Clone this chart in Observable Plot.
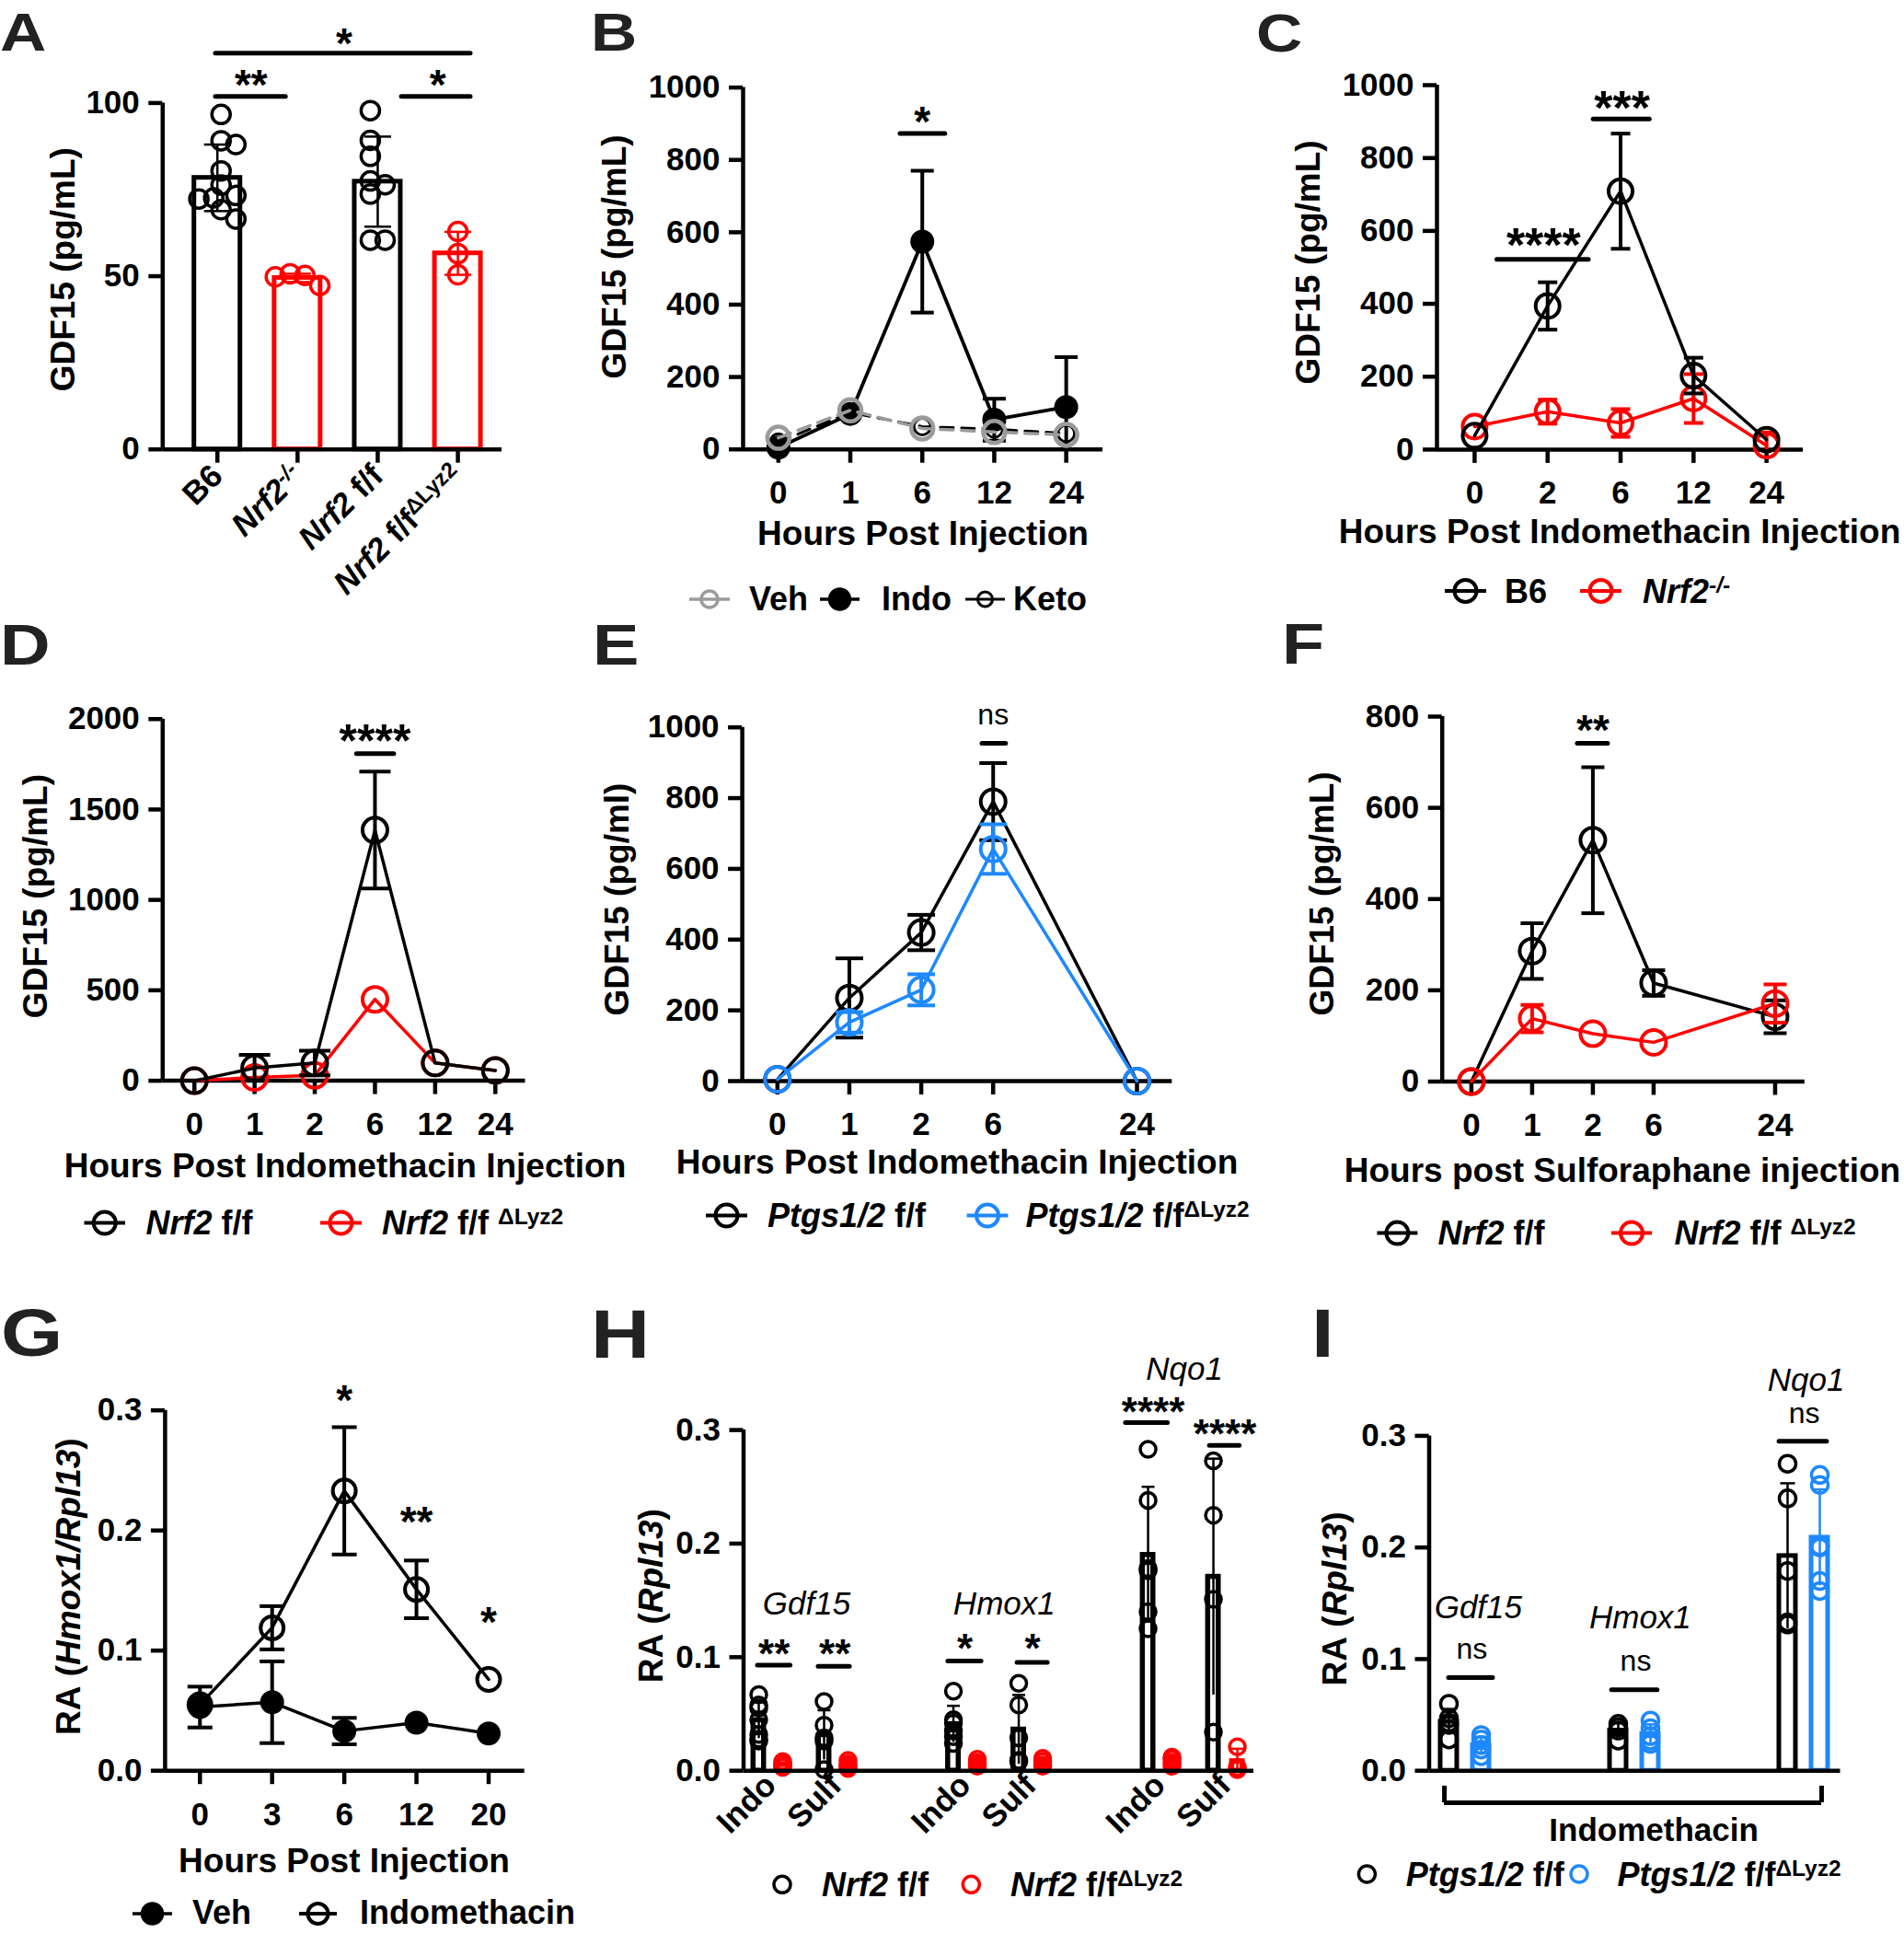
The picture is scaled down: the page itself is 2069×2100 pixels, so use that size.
<!DOCTYPE html>
<html><head><meta charset="utf-8">
<script src="https://cdn.jsdelivr.net/npm/d3@7"></script>
<script src="https://cdn.jsdelivr.net/npm/@observablehq/plot@0.6"></script>
<style>
html,body{margin:0;padding:0;background:#fff;}
#root{position:relative;width:2069px;height:2100px;overflow:hidden;background:#fff;}
</style></head>
<body><div id="root"></div>
<script>
// ================= DATA =================
// Panel A
const aGroups = ["B6", "Nrf2-/-", "Nrf2 f/f", "Nrf2 f/fΔLyz2"];
const aMean = [78.4, 49.5, 77.3, 56.6];
const aSD = [9.6, 1.2, 13.0, 6.2];
const aPtsB6 = [96.7, 89.1, 88.0, 80.4, 76.3, 72.3, 72.6, 73.3, 69.2, 66.5];
const aPtsKO = [47.3, 50.2, 49.8, 50.7];
const aPtsFF = [97.8, 89.2, 84.6, 77.5, 76.4, 73.7, 60.4, 60.4];
const aPtsCKO = [62.9, 56.5, 50.4];
const aSig = [
  {x1: -0.02, x2: 0.855, y: 101.9, label: "**", tx: 0.42, ty: 108},
  {x1: 2.3, x2: 3.16, y: 101.9, label: "*", tx: 2.75, ty: 108},
  {x1: -0.02, x2: 3.16, y: 114.4, label: "*", tx: 1.58, ty: 120.2}
];
// Panel B
const bHours = ["0", "1", "6", "12", "24"];
const bVeh = [32, 108, 58, 48, 40];
const bIndo = [5, 98, 574, 82, 117];
const bIndoSD = [0, 0, 196, 58, 138];
const bKeto = [20, 102, 63, 56, 44];
const bSig = [{x1: 1.696, x2: 2.32, y: 873, label: "*", tx: 2.0, ty: 933}];
// Panel C
const cHours = ["0", "2", "6", "12", "24"];
const cB6 = [38, 394, 709, 203, 27];
const cB6SD = [0, 65, 158, 49, 0];
const cKO = [63, 104, 73, 140, 11];
const cKOSD = [0, 33, 38, 67, 36];
const cSig = [
  {x1: 0.31, x2: 1.565, y: 522, label: "****", tx: 0.945, ty: 592},
  {x1: 1.63, x2: 2.40, y: 907, label: "***", tx: 2.02, ty: 969}
];
// Panel D
const dHours = ["0", "1", "2", "6", "12", "24"];
const dFF = [0, 70, 98, 1386, 98, 57];
const dFFSD = [0, 73, 68, 323, 0, 0];
const dKO = [0, 18, 30, 450, 98, 57];
const dSig = [{x1: 2.70, x2: 3.32, y: 1809, label: "****", tx: 3.0, ty: 1941}];
// Panel E
const eHours = ["0", "1", "2", "6", "24"];
const eFF = [5, 235, 420, 790, 0];
const eFFSD = [0, 112, 50, 109, 0];
const eKO = [5, 166, 258, 656, 0];
const eKOSD = [0, 29, 44, 70, 0];
const eSig = [{x1: 2.85, x2: 3.18, y: 955, label: "ns", tx: 3.0, ty: 1031}];
// Panel F
const fHours = ["0", "1", "2", "6", "24"];
const fFF = [0, 286, 529, 216, 142];
const fFFSD = [0, 61, 160, 28, 36];
const fKO = [0, 138, 105, 86, 171];
const fKOSD = [0, 30, 0, 0, 42];
const fSig = [{x1: 1.75, x2: 2.25, y: 741.5, label: "**", tx: 2.0, ty: 793}];
// Panel G
const gHours = ["0", "3", "6", "12", "20"];
const gVeh = [0.053, 0.057, 0.033, 0.040, 0.031];
const gVehSD = [0.017, 0.034, 0.011, 0, 0];
const gIndo = [0.055, 0.119, 0.233, 0.151, 0.076];
const gIndoSD = [0, 0.018, 0.053, 0.024, 0];
const gSig = [
  {label: "*", tx: 2, ty: 0.317},
  {label: "**", tx: 3, ty: 0.216},
  {label: "*", tx: 4, ty: 0.1324}
];
// Panel H  (order: Gdf15 Indo, Gdf15 Sulf, Hmox1 Indo, Hmox1 Sulf, Nqo1 Indo, Nqo1 Sulf)
const hGenes = ["Gdf15", "Hmox1", "Nqo1"];
const hTreat = ["Indo", "Sulf"];
const hPtsFF = [
  [0.067, 0.058, 0.055, 0.045, 0.032, 0.028, 0.026],
  [0.061, 0.040, 0.029, 0.026, 0.001],
  [0.070, 0.045, 0.042, 0.035, 0.030, 0.024],
  [0.077, 0.058, 0.029, 0.009, 0.008],
  [0.283, 0.238, 0.178, 0.176, 0.140, 0.125],
  [0.273, 0.225, 0.151, 0.034]
];
const hPtsKO = [
  [0.008, 0.006, 0.005, 0.004, 0.003],
  [0.009, 0.006, 0.004, 0.002],
  [0.010, 0.007, 0.005, 0.004],
  [0.011, 0.008, 0.005, 0.004],
  [0.012, 0.010, 0.007, 0.004],
  [0.021, 0.003, 0.001]
];
const hSig = [
  {x1: -0.04, x2: 1.33, y: 0.093, label: "**", tx: 0.64, ty: 0.111},
  {x1: 2.5, x2: 3.81, y: 0.0919, label: "**", tx: 3.18, ty: 0.111},
  {x1: 7.92, x2: 9.31, y: 0.0966, label: "*", tx: 8.62, ty: 0.1165},
  {x1: 10.81, x2: 12.08, y: 0.0955, label: "*", tx: 11.44, ty: 0.1165},
  {x1: 15.34, x2: 17.1, y: 0.3065, label: "****", tx: 16.48, ty: 0.3246},
  {x1: 18.85, x2: 20.1, y: 0.2866, label: "****", tx: 19.48, ty: 0.3047}
];
const hGeneLabels = [{gene: "Gdf15", x: 2.0, y: 0.147}, {gene: "Hmox1", x: 10.26, y: 0.147}, {gene: "Nqo1", x: 17.79, y: 0.353}];
// Panel I (order: Gdf15, Hmox1, Nqo1)
const iPtsFF = [
  [0.060, 0.047, 0.043, 0.041, 0.028],
  [0.042, 0.039, 0.036, 0.027],
  [0.275, 0.244, 0.179, 0.133, 0.131]
];
const iPtsKO = [
  [0.032, 0.028, 0.023, 0.019, 0.013],
  [0.045, 0.038, 0.031, 0.027, 0.024],
  [0.265, 0.256, 0.201, 0.200, 0.170, 0.161]
];
const iSig = [
  {x1: 0, x2: 1.37, y: 0.0835, label: "ns", tx: 0.71, ty: 0.1075},
  {x1: 5.06, x2: 6.48, y: 0.0725, label: "ns", tx: 5.8, ty: 0.0965},
  {x1: 10.26, x2: 11.74, y: 0.2952, label: "ns", tx: 11.03, ty: 0.318}
];
const iGeneLabels = [{gene: "Gdf15", x: 0.91, y: 0.146}, {gene: "Hmox1", x: 5.94, y: 0.137}, {gene: "Nqo1", x: 11.09, y: 0.3495}];
const iBracket = {x1: -0.14, x2: 11.57, y: -0.0287, yEnd: -0.0138, label: "Indomethacin", tx: 6.36, ty: -0.0538};

// ================= STYLE / LAYOUT =================
const FONT = "'Liberation Sans', Arial, Helvetica, sans-serif";
const RED = "#ff0000", BLUE = "#1e88ff", GRAY = "#9b9b9b", BLACK = "#000";
const root = document.getElementById("root");
const hline = {draw(ctx, size) { const r = Math.sqrt(size / Math.PI); ctx.moveTo(-r, 0); ctx.lineTo(r, 0); }};
const intFmt = d3.format("d");

function tspans(parts, fs) {
  let out = "", up = false;
  for (const p of parts) {
    const t = p[0], f = p[1] || "";
    const sup = f.includes("s");
    let dy = 0;
    if (sup && !up) { dy = -0.3 * fs; up = true; }
    else if (!sup && up) { dy = 0.3 * fs; up = false; }
    const size = sup ? fs * 0.68 : fs;
    out += `<tspan${dy ? ` dy="${dy.toFixed(1)}"` : ""} font-size="${size.toFixed(1)}" font-style="${f.includes("i") ? "italic" : "normal"}" font-weight="${f.includes("n") ? "normal" : "bold"}">${t.replace(/ /g, "\u00a0")}</tspan>`;
  }
  return out;
}

function layout(box, fr) {
  return {width: box[2] - box[0], height: box[3] - box[1],
    marginLeft: fr[0] - box[0], marginRight: box[2] - fr[1],
    marginTop: fr[3] - box[1], marginBottom: box[3] - fr[2]};
}
function baseStyle() {
  return {fontFamily: FONT, fontSize: "35px", fontWeight: "bold", background: "transparent", color: "#000", overflow: "visible", position: "absolute"};
}
function mount(svg, box) {
  svg.style.position = "absolute";
  svg.style.left = box[0] + "px";
  svg.style.top = box[1] + "px";
  svg.style.maxWidth = "none";
  root.appendChild(svg);
  svg.querySelectorAll('[aria-label^="x-axis"], [aria-label^="y-axis"]').forEach(g => {
    g.querySelectorAll("path, line").forEach(p => { p.setAttribute("stroke-width", 4.5); p.style.strokeWidth = "4.5px"; p.setAttribute("stroke", "#000"); });
  });
  return svg;
}
function axesLines(xd, yd) {
  return [
    Plot.ruleX([{x: xd[0], y1: yd[0], y2: yd[1]}], {x: "x", y1: "y1", y2: "y2", stroke: BLACK, strokeWidth: 4.5}),
    Plot.ruleY([{y: yd[0], x1: xd[0], x2: xd[1]}], {y: "y", x1: "x1", x2: "x2", stroke: BLACK, strokeWidth: 4.5})
  ];
}
function sigMarks(sig, fs) {
  const lines = sig.filter(d => d.x1 != null);
  const stars = sig.filter(d => d.label !== "ns");
  const ns = sig.filter(d => d.label === "ns");
  return [
    Plot.ruleY(lines, {y: "y", x1: "x1", x2: "x2", stroke: BLACK, strokeWidth: 5, strokeLinecap: "round"}),
    Plot.text(stars, {x: "tx", y: "ty", text: "label", fontSize: fs, fontWeight: "bold", dy: 0.26 * fs}),
    Plot.text(ns, {x: "tx", y: "ty", text: "label", fontSize: 32, fontWeight: "normal", dy: -2})
  ];
}
// simple beeswarm: allows partial overlap, then centred on the group
function swarm(vals, diam, pxY, pxX) {
  const order = vals.map((v, i) => i).sort((a, b) => vals[b] - vals[a]);
  const placed = [], res = new Array(vals.length);
  const step = diam * 0.35, minD = diam * 0.62;
  for (const i of order) {
    const yp = vals[i] * pxY;
    let chosen = 0;
    for (let k = 0; k < 40; k++) {
      const cand = k === 0 ? 0 : (k % 2 ? 1 : -1) * Math.ceil(k / 2) * step;
      if (placed.every(p => (p.x - cand) ** 2 + (p.y - yp) ** 2 >= minD ** 2)) { chosen = cand; break; }
    }
    placed.push({x: chosen, y: yp});
    res[i] = chosen;
  }
  const mid = (d3.min(res) + d3.max(res)) / 2;
  return res.map(v => (v - mid) / pxX);
}

// ================= PANEL A =================
{
  const box = [0, 0, 560, 690], fr = [176.3, 545, 487.7, 111.4], xd = [-0.682, 3.55], yd = [0, 100];
  const pxX = (fr[1] - fr[0]) / (xd[1] - xd[0]), pxY = (fr[2] - fr[3]) / (yd[1] - yd[0]);
  const colors = [BLACK, RED, BLACK, RED];
  const pts = [aPtsB6, aPtsKO, aPtsFF, aPtsCKO];
  const marks = [];
  aGroups.forEach((g, i) => {
    const c = colors[i];
    const bar = [{x: i, x1: i - 0.287, x2: i + 0.287, m: aMean[i], lo: aMean[i] - aSD[i], hi: aMean[i] + aSD[i]}];
    marks.push(Plot.rectY(bar, {x1: "x1", x2: "x2", y1: 0, y2: "m", fill: "#fff", stroke: c, strokeWidth: 5}));
    marks.push(Plot.ruleX(bar, {x: "x", y1: "lo", y2: "hi", stroke: c, strokeWidth: 2.5}));
    marks.push(Plot.dot(bar, {x: "x", y: "hi", symbol: hline, r: 14.5, stroke: c, strokeWidth: 2.5, fill: "none"}));
    marks.push(Plot.dot(bar, {x: "x", y: "lo", symbol: hline, r: 14.5, stroke: c, strokeWidth: 2.5, fill: "none"}));
    const off = swarm(pts[i], 23, pxY, pxX);
    marks.push(Plot.dot(pts[i].map((v, j) => ({x: i + off[j], v})), {x: "x", y: "v", r: 10, stroke: c, strokeWidth: 3.5, fill: "none"}));
  });
  marks.push(...axesLines(xd, yd));
  marks.push(...sigMarks(aSig, 46));
  const svg = Plot.plot({...layout(box, fr), style: baseStyle(),
    x: {type: "linear", domain: xd, ticks: [0, 1, 2, 3], tickFormat: d => aGroups[Math.round(d)], tickRotate: -45, tickSize: 15, tickPadding: 8, label: null},
    y: {type: "linear", domain: yd, ticks: [0, 50, 100], tickFormat: intFmt, tickSize: 15, tickPadding: 10, label: null},
    marks});
  mount(svg, box);
  const rich = {
    "Nrf2-/-": [["Nrf2", "i"], ["-/-", "is"]],
    "Nrf2 f/f": [["Nrf2", "i"], [" f/f", ""]],
    "Nrf2 f/fΔLyz2": [["Nrf2", "i"], [" f/f", ""], ["ΔLyz2", "s"]]
  };
  svg.querySelectorAll('[aria-label^="x-axis"] text').forEach(t => {
    const p = rich[t.textContent.trim()];
    if (p) t.innerHTML = tspans(p, 35);
  });
}

// ================= LINE PANELS =================
function linePanel(o) {
  const {box, fr, xd, yd, yTicks, slots, labels, series, sig} = o;
  const yFmt = o.yFmt || intFmt;
  const marks = [...axesLines(xd, yd)];
  for (const s of series) {
    const rows = slots.map((x, i) => ({x, v: s.v[i], sd: s.sd ? s.sd[i] : 0}));
    const eb = rows.filter(d => d.sd > 0).map(d => ({x: d.x, lo: Math.max(0, d.v - d.sd), hi: d.v + d.sd}));
    marks.push(Plot.line(rows, {x: "x", y: "v", stroke: s.c, strokeWidth: s.lw || 3.5, strokeDasharray: s.dash}));
    marks.push(Plot.ruleX(eb, {x: "x", y1: "lo", y2: "hi", stroke: s.c, strokeWidth: 4}));
    marks.push(Plot.dot(eb, {x: "x", y: "hi", symbol: hline, r: s.cap, stroke: s.c, strokeWidth: 4, fill: "none"}));
    marks.push(Plot.dot(eb.filter(d => d.lo > 0), {x: "x", y: "lo", symbol: hline, r: s.cap, stroke: s.c, strokeWidth: 4, fill: "none"}));
    marks.push(Plot.dot(rows, {x: "x", y: "v", r: s.r, stroke: s.c, fill: s.fill || "none", strokeWidth: s.sw || 4}));
  }
  marks.push(...sigMarks(sig, o.starFs || 46));
  const svg = Plot.plot({...layout(box, fr), style: baseStyle(),
    x: {type: "linear", domain: xd, ticks: slots, tickFormat: d => labels[slots.indexOf(Math.round(d))], tickSize: 15, tickPadding: 19, label: null},
    y: {type: "linear", domain: yd, ticks: yTicks, tickFormat: yFmt, tickSize: 15, tickPadding: 10, label: null},
    marks});
  mount(svg, box);
}

// B
linePanel({box: [640, 0, 1220, 640], fr: [807, 1198, 487.7, 94.6], xd: [-0.49, 4.51], yd: [0, 1000],
  yTicks: [0, 200, 400, 600, 800, 1000], slots: [0, 1, 2, 3, 4], labels: bHours,
  series: [
    {v: bIndo, sd: bIndoSD, c: BLACK, fill: BLACK, r: 12, cap: 12.5, lw: 3.8, sw: 2},
    {v: bKeto, c: BLACK, r: 9, cap: 9, lw: 3, sw: 3, dash: "14,9"},
    {v: bVeh, c: GRAY, r: 12, cap: 12, lw: 3.5, sw: 4.5, dash: "14,9"}
  ], sig: bSig});
// C
linePanel({box: [1360, 0, 2069, 620], fr: [1561, 1959, 487.9, 92], xd: [-0.516, 4.503], yd: [0, 1000],
  yTicks: [0, 200, 400, 600, 800, 1000], slots: [0, 1, 2, 3, 4], labels: cHours,
  series: [
    {v: cKO, sd: cKOSD, c: RED, r: 13, cap: 10.5},
    {v: cB6, sd: cB6SD, c: BLACK, r: 13, cap: 10.5}
  ], sig: cSig, starFs: 52});
// D
linePanel({box: [0, 670, 640, 1300], fr: [176.3, 570.5, 1173.6, 780.7], xd: [-0.526, 5.5], yd: [0, 2000],
  yTicks: [0, 500, 1000, 1500, 2000], slots: [0, 1, 2, 3, 4, 5], labels: dHours,
  series: [
    {v: dKO, c: RED, r: 13.5, cap: 17},
    {v: dFF, sd: dFFSD, c: BLACK, r: 13.5, cap: 17}
  ], sig: dSig, starFs: 50});
// E
linePanel({box: [640, 670, 1380, 1300], fr: [806.1, 1273.3, 1174, 789.7], xd: [-0.489, 5.49], yd: [0, 1000],
  yTicks: [0, 200, 400, 600, 800, 1000], slots: [0, 1, 2, 3, 5], labels: eHours,
  series: [
    {v: eFF, sd: eFFSD, c: BLACK, r: 13.5, cap: 15},
    {v: eKO, sd: eKOSD, c: BLUE, r: 13.5, cap: 15}
  ], sig: eSig});
// F
linePanel({box: [1380, 670, 2069, 1300], fr: [1566.7, 1960.8, 1174.5, 778], xd: [-0.48, 5.49], yd: [0, 800],
  yTicks: [0, 200, 400, 600, 800], slots: [0, 1, 2, 3, 5], labels: fHours,
  series: [
    {v: fFF, sd: fFFSD, c: BLACK, r: 13.5, cap: 12.5},
    {v: fKO, sd: fKOSD, c: RED, r: 13.5, cap: 12.5}
  ], sig: fSig});
// G
linePanel({box: [0, 1400, 640, 2100], fr: [178.9, 569.7, 1923.2, 1531.7], xd: [-0.483, 4.5], yd: [0, 0.3],
  yTicks: [0, 0.1, 0.2, 0.3], yFmt: d3.format(".1f"), slots: [0, 1, 2, 3, 4], labels: gHours,
  series: [
    {v: gIndo, sd: gIndoSD, c: BLACK, r: 12.5, cap: 13.5},
    {v: gVeh, sd: gVehSD, c: BLACK, fill: BLACK, r: 12, cap: 13.5, sw: 2}
  ], sig: gSig});

// ================= PANEL H =================
{
  const box = [640, 1400, 1400, 2100], fr = [807.5, 1362, 1923.2, 1553.1], xd = [-0.635, 20.69], yd = [0, 0.3];
  const GROUP = 8.135, TREAT = 2.73;
  const marks = [];
  [[hPtsFF, BLACK, 0], [hPtsKO, RED, 1]].forEach(([pts, c, k]) => {
    const bars = pts.map((v, j) => {
      const g = Math.floor(j / 2), t = j % 2, x = g * GROUP + t * TREAT + k;
      const m = d3.mean(v), s = d3.deviation(v) || 0;
      return {x, x1: x - 0.22, x2: x + 0.22, m, lo: Math.max(0, m - s), hi: m + s};
    });
    marks.push(Plot.rectY(bars, {x1: "x1", x2: "x2", y1: 0, y2: "m", fill: "#fff", stroke: c, strokeWidth: 5.5}));
    marks.push(Plot.ruleX(bars, {x: "x", y1: "lo", y2: "hi", stroke: c, strokeWidth: 2.5}));
    marks.push(Plot.dot(bars, {x: "x", y: "hi", symbol: hline, r: 7, stroke: c, strokeWidth: 2.5, fill: "none"}));
    const dots = pts.flatMap((v, j) => v.map(val => ({x: bars[j].x, v: val})));
    marks.push(Plot.dot(dots, {x: "x", y: "v", r: 8.5, stroke: c, strokeWidth: 3.5, fill: "none"}));
  });
  marks.push(...axesLines(xd, yd));
  marks.push(...sigMarks(hSig, 44));
  marks.push(Plot.text(hGeneLabels, {x: "x", y: "y", text: "gene", fontSize: 35, fontWeight: "normal", fontStyle: "italic"}));
  const ticks = [];
  for (let g = 0; g < hGenes.length; g++) for (let t = 0; t < hTreat.length; t++) ticks.push(g * GROUP + t * TREAT + 0.5);
  const svg = Plot.plot({...layout(box, fr), style: baseStyle(),
    x: {type: "linear", domain: xd, ticks, tickFormat: d => hTreat[d3.leastIndex(ticks, t => Math.abs(t - d)) % 2], tickRotate: -45, tickSize: 0, tickPadding: 10, label: null},
    y: {type: "linear", domain: yd, ticks: [0, 0.1, 0.2, 0.3], tickFormat: d3.format(".1f"), tickSize: 15, tickPadding: 10, label: null},
    marks});
  mount(svg, box);
}

// ================= PANEL I =================
{
  const box = [1420, 1400, 2069, 2100], fr = [1552.5, 1999.5, 1923.2, 1559.4], xd = [-0.614, 12.157], yd = [0, 0.3];
  const GROUP = 5.257;
  const marks = [];
  [[iPtsFF, BLACK, 0], [iPtsKO, BLUE, 1]].forEach(([pts, c, k]) => {
    const bars = pts.map((v, g) => {
      const x = g * GROUP + k;
      const m = d3.mean(v), s = d3.deviation(v) || 0;
      return {x, x1: x - 0.257, x2: x + 0.257, m, lo: Math.max(0, m - s), hi: m + s};
    });
    marks.push(Plot.rectY(bars, {x1: "x1", x2: "x2", y1: 0, y2: "m", fill: "#fff", stroke: c, strokeWidth: 5}));
    marks.push(Plot.ruleX(bars, {x: "x", y1: "lo", y2: "hi", stroke: c, strokeWidth: 2.5}));
    marks.push(Plot.dot(bars, {x: "x", y: "hi", symbol: hline, r: 8, stroke: c, strokeWidth: 2.5, fill: "none"}));
    const dots = pts.flatMap((v, j) => v.map(val => ({x: bars[j].x, v: val})));
    marks.push(Plot.dot(dots, {x: "x", y: "v", r: 9, stroke: c, strokeWidth: 3.5, fill: "none"}));
  });
  marks.push(...axesLines(xd, yd));
  marks.push(...sigMarks(iSig, 44));
  marks.push(Plot.text(iGeneLabels, {x: "x", y: "y", text: "gene", fontSize: 35, fontWeight: "normal", fontStyle: "italic"}));
  const br = iBracket;
  marks.push(Plot.ruleY([br], {y: "y", x1: "x1", x2: "x2", stroke: BLACK, strokeWidth: 5}));
  marks.push(Plot.ruleX([{x: br.x1, y1: br.y, y2: br.yEnd}, {x: br.x2, y1: br.y, y2: br.yEnd}], {x: "x", y1: "y1", y2: "y2", stroke: BLACK, strokeWidth: 5}));
  marks.push(Plot.text([br], {x: "tx", y: "ty", text: "label", fontSize: 35, fontWeight: "bold"}));
  const svg = Plot.plot({...layout(box, fr), style: baseStyle(),
    x: {type: "linear", domain: xd, axis: null},
    y: {type: "linear", domain: yd, ticks: [0, 0.1, 0.2, 0.3], tickFormat: d3.format(".1f"), tickSize: 15, tickPadding: 10, label: null},
    marks});
  mount(svg, box);
}

// ================= OVERLAY: letters, titles, legends =================
const ov = [];
function T(x, y, parts, fs, anchor = "start") {
  ov.push(`<text x="${x}" y="${y}" font-size="${fs}" text-anchor="${anchor}">${tspans(parts, fs)}</text>`);
}
function TR(x, y, parts, fs) {
  ov.push(`<text transform="translate(${x},${y}) rotate(-90)" font-size="${fs}" text-anchor="middle">${tspans(parts, fs)}</text>`);
}
function letter(ch, x, y, fs) {
  ov.push(`<text transform="translate(${x},${y}) scale(1.2,1)" font-size="${fs}" font-weight="bold" fill="#222">${ch}</text>`);
}
function sym(x1, x2, y, c, r, fill, sw) {
  if (x1 !== x2) ov.push(`<line x1="${x1}" x2="${x2}" y1="${y}" y2="${y}" stroke="${c}" stroke-width="${sw}"/>`);
  ov.push(`<circle cx="${(x1 + x2) / 2}" cy="${y}" r="${r}" fill="${fill}" stroke="${c}" stroke-width="${sw}"/>`);
}
// panel letters
letter("A", 0, 55, 58); letter("B", 642, 55, 58); letter("C", 1365, 56, 58);
letter("D", 0, 722, 63); letter("E", 644, 722, 63); letter("F", 1393, 721, 63);
letter("G", 1, 1473, 72); letter("H", 642, 1475, 74); letter("I", 1425, 1474, 74);
// y titles
const gdf = [["GDF15 (pg/mL)"]];
TR(80.5, 292.7, gdf, 37); TR(679.5, 279, gdf, 37); TR(1433.5, 285, gdf, 37);
TR(51.4, 973.6, gdf, 37); TR(683, 977, [["GDF15 (pg/ml)"]], 37); TR(1449, 971, gdf, 37);
TR(87, 1723.7, [["RA ("], ["Hmox1/Rpl13", "i"], [")"]], 37);
TR(720, 1733.7, [["RA ("], ["Rpl13", "i"], [")"]], 37);
TR(1463, 1737, [["RA ("], ["Rpl13", "i"], [")"]], 37);
// x titles
T(1003, 592, [["Hours Post Injection"]], 37, "middle");
T(1760, 590, [["Hours Post Indomethacin Injection"]], 37, "middle");
T(375, 1279, [["Hours Post Indomethacin Injection"]], 37, "middle");
T(1040, 1275, [["Hours Post Indomethacin Injection"]], 37, "middle");
T(1763, 1284, [["Hours post Sulforaphane injection"]], 37, "middle");
T(374, 2034, [["Hours Post Injection"]], 37, "middle");
// legends
const LF = 36;
// B
sym(749, 793, 651, GRAY, 9, "none", 3.5); T(814, 663, [["Veh"]], LF);
sym(891, 934, 651, BLACK, 11, BLACK, 3.5); T(958, 663, [["Indo"]], LF);
sym(1049, 1092, 651, BLACK, 8, "none", 3); T(1101, 663, [["Keto"]], LF);
// C
sym(1570, 1615, 642, BLACK, 12, "none", 4); T(1635, 654.5, [["B6"]], LF);
sym(1717, 1762, 642, RED, 12, "none", 4); T(1785, 654.5, [["Nrf2", "i"], ["-/-", "is"]], LF);
// D
sym(91.5, 136, 1328.5, BLACK, 12, "none", 4); T(158.5, 1341, [["Nrf2", "i"], [" f/f"]], LF);
sym(348, 393, 1328.5, RED, 12, "none", 4); T(415, 1341, [["Nrf2", "i"], [" f/f "], ["ΔLyz2", "s"]], LF);
// E
sym(767, 812, 1320.5, BLACK, 12, "none", 4); T(834, 1333, [["Ptgs1/2", "i"], [" f/f"]], LF);
sym(1050.6, 1095.4, 1320.5, BLUE, 12, "none", 4); T(1114.5, 1333, [["Ptgs1/2", "i"], [" f/f"], ["ΔLyz2", "s"]], LF);
// F
sym(1496.4, 1540.4, 1339.6, BLACK, 12, "none", 4); T(1562.5, 1352, [["Nrf2", "i"], [" f/f"]], LF);
sym(1751, 1795, 1339.6, RED, 12, "none", 4); T(1819.5, 1352, [["Nrf2", "i"], [" f/f "], ["ΔLyz2", "s"]], LF);
// G
sym(144, 187, 2079, BLACK, 11, BLACK, 3.5); T(209, 2090, [["Veh"]], LF);
sym(325, 366, 2079, BLACK, 11, "none", 4); T(391, 2090, [["Indomethacin"]], LF);
// H
sym(850, 850, 2047.3, BLACK, 9, "none", 3.5); T(893, 2060, [["Nrf2", "i"], [" f/f"]], LF);
sym(1055.3, 1055.3, 2047.3, RED, 9, "none", 3.5); T(1098, 2060, [["Nrf2", "i"], [" f/f"], ["ΔLyz2", "s"]], LF);
// I
sym(1485.4, 1485.4, 2036, BLACK, 9, "none", 3.5); T(1527.7, 2048.5, [["Ptgs1/2", "i"], [" f/f"]], LF);
sym(1716, 1716, 2036, BLUE, 9, "none", 3.5); T(1757.4, 2048.5, [["Ptgs1/2", "i"], [" f/f"], ["ΔLyz2", "s"]], LF);

const overlay = document.createElementNS("http://www.w3.org/2000/svg", "svg");
overlay.setAttribute("width", 2069); overlay.setAttribute("height", 2100);
overlay.setAttribute("font-family", FONT);
overlay.style.cssText = "position:absolute;left:0;top:0;overflow:visible;pointer-events:none;";
overlay.innerHTML = ov.join("");
root.appendChild(overlay);
</script>
</body></html>
